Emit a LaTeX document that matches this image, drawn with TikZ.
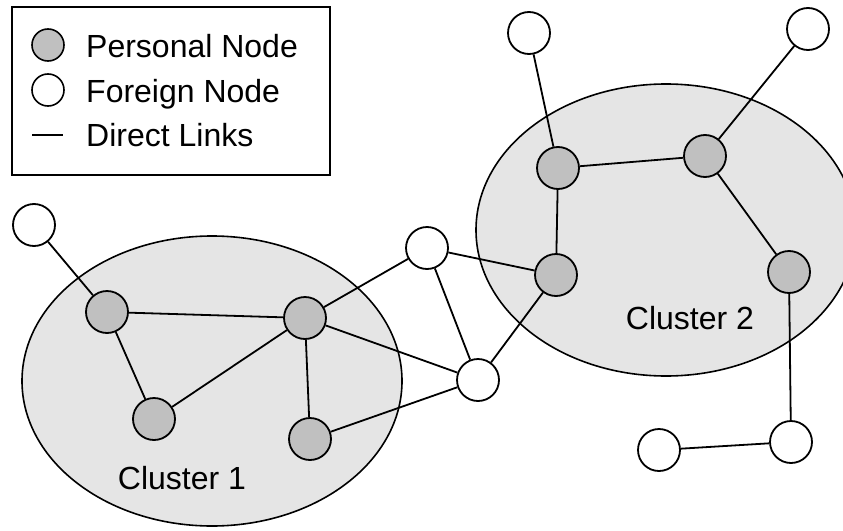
\documentclass[tikz,border=0pt]{standalone}
\usepackage{fontspec}
\setmainfont{Liberation Sans}
\begin{document}
\begin{tikzpicture}[x=1pt,y=-1pt,
  pnode/.style={circle,draw=black,line width=1.8pt,fill=pgray,minimum size=42pt,inner sep=0pt},
  fnode/.style={circle,draw=black,line width=1.8pt,fill=white,minimum size=42pt,inner sep=0pt},
  link/.style={draw=black,line width=1.8pt},
  cluster/.style={draw=black,line width=1.6pt,fill=cgray},
  lbl/.style={font=\fontsize{32}{38}\selectfont,inner sep=0pt}]
\definecolor{pgray}{HTML}{C0C0C0}
\definecolor{cgray}{HTML}{E5E5E5}
\useasboundingbox (0,0) rectangle (843,530);
% clusters
\begin{scope}
\clip (0,0) rectangle (843,530);
\filldraw[cluster] (212,381) ellipse [x radius=190, y radius=145];
\filldraw[cluster] (666,230) ellipse [x radius=190, y radius=146];
\end{scope}
\node[lbl] (c1) at (182,478) {Cluster 1};
\node[lbl] (c2) at (690,318) {Cluster 2};
% nodes
\node[fnode] (f1) at (34,225) {};
\node[pnode] (p1) at (107,312) {};
\node[pnode] (p2) at (305,318) {};
\node[pnode] (p3) at (154,419) {};
\node[pnode] (p4) at (310,439) {};
\node[fnode] (f2) at (427,248) {};
\node[fnode] (f3) at (478,380) {};
\node[pnode] (p5) at (556,275) {};
\node[pnode] (p6) at (558,168) {};
\node[pnode] (p7) at (705,156) {};
\node[pnode] (p8) at (789,272) {};
\node[fnode] (f4) at (529,33) {};
\node[fnode] (f5) at (808,29) {};
\node[fnode] (f6) at (791,442) {};
\node[fnode] (f7) at (659,450) {};
% links
\draw[link] (f1) -- (p1);
\draw[link] (p1) -- (p2);
\draw[link] (p1) -- (p3);
\draw[link] (p3) -- (p2);
\draw[link] (p2) -- (p4);
\draw[link] (p2) -- (f2);
\draw[link] (p2) -- (f3);
\draw[link] (p4) -- (f3);
\draw[link] (f2) -- (f3);
\draw[link] (f2) -- (p5);
\draw[link] (f3) -- (p5);
\draw[link] (p5) -- (p6);
\draw[link] (p6) -- (f4);
\draw[link] (p6) -- (p7);
\draw[link] (p7) -- (f5);
\draw[link] (p7) -- (p8);
\draw[link] (p8) -- (f6);
\draw[link] (f6) -- (f7);
% legend
\node[draw=black,line width=1.5pt,fill=white,minimum width=318pt,minimum height=168pt,inner sep=0pt] (leg) at (171,91) {};
\node[circle,draw=black,line width=1.6pt,fill=pgray,minimum size=32pt,inner sep=0pt] (lp) at (48,45) {};
\node[circle,draw=black,line width=1.6pt,fill=white,minimum size=32pt,inner sep=0pt] (lf) at (48,90) {};
\coordinate (la) at (32,135);
\coordinate (lb) at (63,135);
\draw[link] (la) -- (lb);
\node[lbl,anchor=base west] (t1) at (86,57) {Personal Node};
\node[lbl,anchor=base west] (t2) at (86,102) {Foreign Node};
\node[lbl,anchor=base west] (t3) at (86,146) {Direct Links};
\end{tikzpicture}
\end{document}
